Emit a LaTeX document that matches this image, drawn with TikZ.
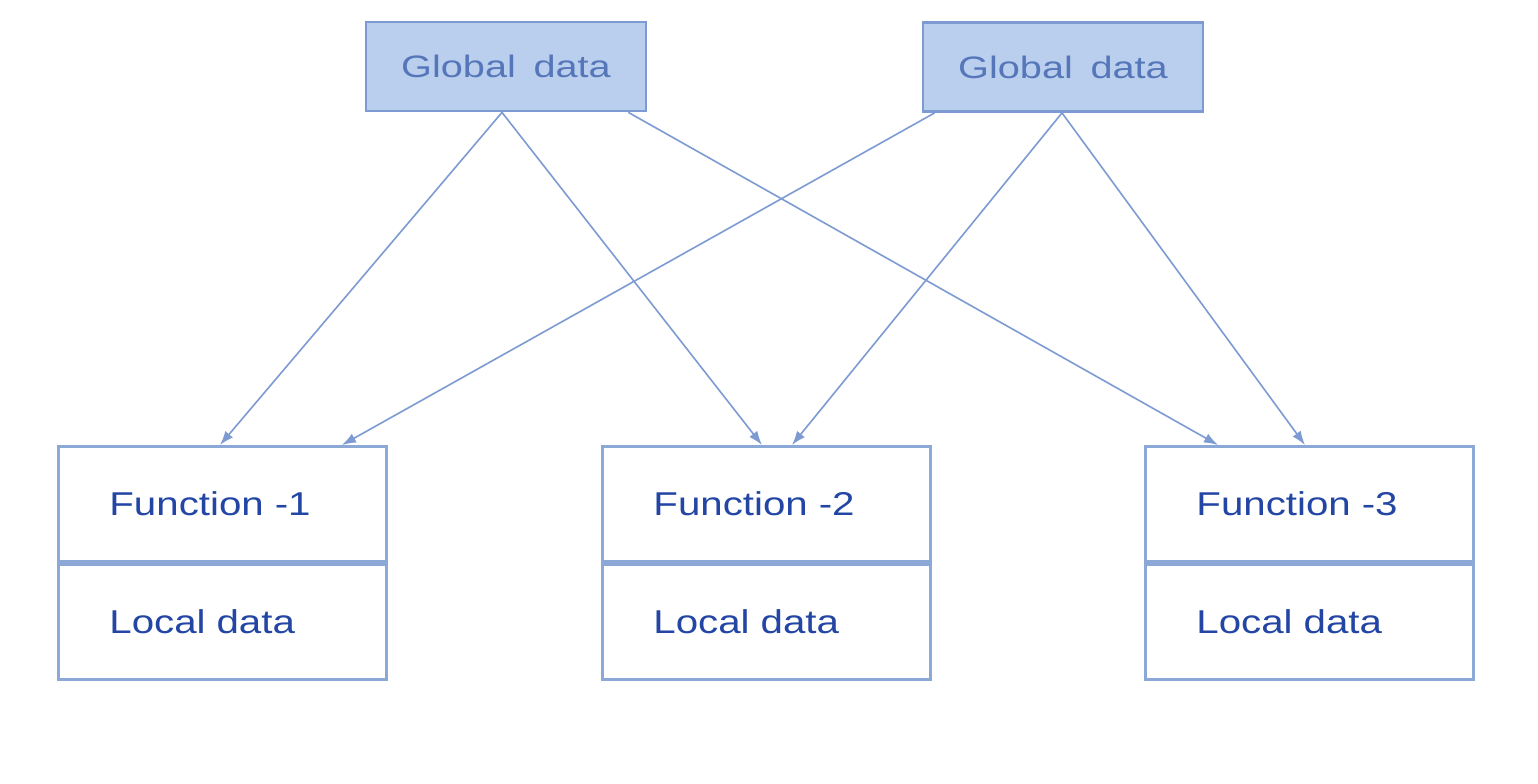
\documentclass[tikz,border=0pt]{standalone}
\usepackage{fontspec}
\setmainfont{Liberation Sans}
\newfontfamily\widefont[FakeStretch=1.22]{Liberation Sans}
\newfontfamily\widerfont[FakeStretch=1.28,WordSpace=1.6]{Liberation Sans}
\usetikzlibrary{arrows.meta,calc}
\definecolor{gfill}{RGB}{186,206,238}
\definecolor{gborder}{RGB}{125,155,210}
\definecolor{gtext}{RGB}{85,118,185}
\definecolor{fborder}{RGB}{140,168,215}
\definecolor{ftext}{RGB}{35,70,165}
\definecolor{arr}{RGB}{125,155,210}
\tikzset{
  globalbox/.style={draw=gborder,fill=gfill,line width=1.4pt,minimum width=140pt,minimum height=44.5pt,inner sep=0pt,font=\widerfont\fontsize{15.5}{18}\selectfont,text=gtext},
  funcpart/.style={draw=fborder,line width=1.4pt,anchor=north west,minimum height=57.5pt,text width=113pt,inner xsep=25.5pt,inner ysep=0pt,align=left,font=\widefont\fontsize{16.5}{19}\selectfont,text=ftext},
  conn/.style={draw=arr,line width=0.8pt,-{Latex[length=7pt,width=5pt]}}
}
\begin{document}
\begin{tikzpicture}[x=0.5pt,y=-0.5pt]
\useasboundingbox[fill=white] (0,0) rectangle (1538,783);
\node[globalbox] (g1) at (506,66.5) {Global data};
\node[globalbox] (g2) at (1063,67) {Global data};
\node[funcpart] (f1t) at (57,445) {Function -1};
\node[funcpart] (f1b) at (f1t.south west) {Local data};
\node[funcpart] (f2t) at (601,445) {Function -2};
\node[funcpart] (f2b) at (f2t.south west) {Local data};
\node[funcpart] (f3t) at (1144,445) {Function -3};
\node[funcpart] (f3b) at (f3t.south west) {Local data};
% source points
\coordinate (g1a) at ([xshift=-2pt]g1.south);
\coordinate (g1b) at ([xshift=-9.5pt]g1.south east);
\coordinate (g2a) at ([xshift=6.5pt]g2.south west);
\coordinate (g2b) at ([xshift=-0.5pt]g2.south);
% target points
\coordinate (t11) at ([xshift=81.5pt]f1t.north west);
\coordinate (t12) at ([xshift=142.5pt]f1t.north west);
\coordinate (t21) at ([xshift=80.5pt]f2t.north west);
\coordinate (t22) at ([xshift=95.5pt]f2t.north west);
\coordinate (t31) at ([xshift=37pt]f3t.north west);
\coordinate (t32) at ([xshift=80.5pt]f3t.north west);
\draw[conn] (g1a) -- (t11);
\draw[conn] (g1a) -- (t21);
\draw[conn] (g1b) -- (t31);
\draw[conn] (g2a) -- (t12);
\draw[conn] (g2b) -- (t22);
\draw[conn] (g2b) -- (t32);
\end{tikzpicture}
\end{document}
